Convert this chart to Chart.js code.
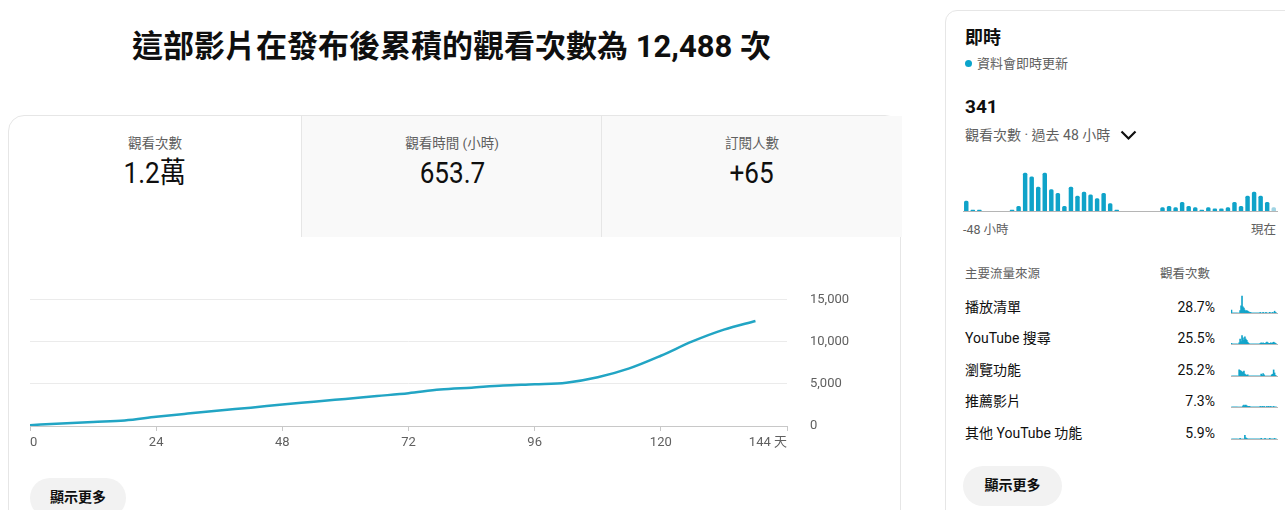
<!DOCTYPE html>
<html lang="zh-Hant">
<head>
<meta charset="utf-8">
<script src="https://cdn.jsdelivr.net/npm/chart.js@4.4.1/dist/chart.umd.min.js"></script>
<style>
  body {
    margin: 0;
    width: 1285px;
    height: 510px;
    overflow: hidden;
    background: #fff;
    position: relative;
    font-family: Roboto, "Noto Sans CJK TC", sans-serif;
    color: #0f0f0f;
  }
  .abs { position: absolute; white-space: nowrap; }
  canvas { position: absolute; }
  .card { position: absolute; border: 1px solid #e6e6e6; box-sizing: border-box; }
  .tab { position: absolute; top: 0; height: 121px; text-align: center; }
  .tab .name { position: absolute; left: 0; right: 0; top: 18px; font-size: 13.5px; line-height: 18px; color: #606060; }
  .tab .value { position: absolute; left: 0; right: 0; top: 40px; font-size: 29px; line-height: 34px; }
  .tab .value span { display: inline-block; transform: scaleX(0.9); }
  .btn { position: absolute; background: #f2f2f2; border-radius: 20px; font-size: 14px; font-weight: 700; text-align: center; line-height: 38px; }
  .muted { color: #606060; }
</style>
</head>
<body>

<div class="abs" style="left:0;width:903px;top:27px;font-size:31px;line-height:40px;font-weight:700;text-align:center">這部影片在發布後累積的觀看次數為 12,488 次</div>

<div class="card" style="left:8px;top:115px;width:893px;height:430px;border-radius:16px 16px 0 0">
  <div id="tabs"></div>
</div>
<canvas id="viewsChart" width="870" height="191" style="left:0;top:269px"></canvas>
<div class="btn" style="left:30px;top:478px;width:96px;height:40px">顯示更多</div>

<div class="card" style="left:945px;top:10px;width:370px;height:520px;border-radius:12px"></div>
<div class="abs" style="left:965px;top:26px;font-size:18px;line-height:24px;font-weight:700">即時</div>
<div class="abs" style="left:965px;top:60px;width:7px;height:7px;border-radius:50%;background:#0aa4cb"></div>
<div class="abs muted" style="left:977px;top:55px;font-size:13px;line-height:18px">資料會即時更新</div>
<div class="abs" style="left:965px;top:95px;font-size:19px;line-height:24px;font-weight:700">341</div>
<div class="abs muted" style="left:965px;top:126px;font-size:14px;line-height:18px">觀看次數 · 過去 48 小時</div>
<svg class="abs" style="left:1120px;top:130px" width="17" height="11" viewBox="0 0 17 11"><path d="M1.5 1.5 L8.5 8.5 L15.5 1.5" stroke="#0f0f0f" stroke-width="2.2" fill="none"/></svg>
<canvas id="liveChart" width="325" height="56" style="left:958px;top:160px"></canvas>
<div class="abs muted" style="left:963px;top:221px;font-size:12.5px;line-height:17px">-48 小時</div>
<div class="abs muted" style="left:1200px;width:76px;top:221px;font-size:12.5px;line-height:17px;text-align:right">現在</div>
<div class="abs muted" style="left:965px;top:265px;font-size:12.5px;line-height:17px">主要流量來源</div>
<div class="abs muted" style="left:1160px;top:265px;font-size:12.5px;line-height:17px">觀看次數</div>
<div id="sources"></div>
<div class="btn" style="left:963px;top:466px;width:99px;height:40px">顯示更多</div>

<script>
// Cumulative views since publish (day, views)
const days = [0, 6, 12, 18, 24, 30, 36, 42, 48, 54, 60, 66, 72, 78, 84, 90, 96, 102, 108, 114, 120, 126, 132, 138];
const cumulativeViews = [100, 300, 480, 650, 1090, 1480, 1850, 2180, 2550, 2880, 3220, 3560, 3900, 4330, 4560, 4800, 4960, 5150, 5800, 6850, 8350, 10050, 11450, 12488];
const xTicks = [0, 24, 48, 72, 96, 120, 144];
const yTicks = [0, 5000, 10000, 15000];

// Metric tabs
const metricNames = ['觀看次數', '觀看時間 (小時)', '訂閱人數'];
const metricValues = ['1.2萬', '653.7', '+65'];

// Realtime: views per hour, last 48 hours
const hourLabels = ['-48', '-47', '-46', '-45', '-44', '-43', '-42', '-41', '-40', '-39', '-38', '-37', '-36', '-35', '-34', '-33',
  '-32', '-31', '-30', '-29', '-28', '-27', '-26', '-25', '-24', '-23', '-22', '-21', '-20', '-19', '-18', '-17',
  '-16', '-15', '-14', '-13', '-12', '-11', '-10', '-9', '-8', '-7', '-6', '-5', '-4', '-3', '-2', '-1'];
const hourlyViews = [8, 1, 1, 0, 0, 0, 0, 1, 4, 30, 27, 19, 30, 17, 14, 4, 19, 12, 15, 13, 10, 14, 6, 1,
  0, 0, 0, 0, 0, 0, 3, 4, 3, 7, 4, 3, 1, 3, 2, 2, 3, 7, 4, 12, 15, 12, 7, 3];

// Traffic sources
const sourceNames = ['播放清單', 'YouTube 搜尋', '瀏覽功能', '推薦影片', '其他 YouTube 功能'];
const sourceShares = ['28.7%', '25.5%', '25.2%', '7.3%', '5.9%'];
const sparkPlaylist = [5, 0, 0, 0, 0, 0, 0, 0, 0, 4, 12, 28, 10, 8, 5, 3, 4, 3, 2, 1, 1, 0, 0, 0, 0, 0, 0, 0, 0, 0, 1, 0, 0, 1, 0, 0, 1, 0, 0, 0, 1, 0, 0, 1, 0, 3, 1, 0];
const sparkSearch = [1, 0, 0, 0, 0, 0, 0, 0, 2, 8, 4, 14, 10, 6, 12, 8, 6, 3, 1, 0, 0, 0, 0, 0, 0, 0, 0, 0, 0, 0, 1, 2, 1, 2, 1, 1, 2, 3, 2, 1, 1, 2, 1, 2, 3, 2, 1, 0];
const sparkBrowse = [0, 0, 0, 0, 0, 0, 0, 0, 10, 9, 8, 7, 6, 8, 3, 2, 1, 2, 0, 0, 0, 0, 0, 0, 0, 0, 0, 0, 0, 0, 0, 3, 1, 4, 2, 0, 0, 0, 0, 0, 0, 0, 2, 3, 10, 5, 1, 0];
const sparkSuggested = [0, 0, 0, 0, 0, 0, 0, 0, 0, 0, 0, 0, 2, 3, 2, 3, 2, 1, 1, 1, 0, 0, 0, 0, 0, 0, 0, 0, 0, 0, 1, 0, 1, 0, 1, 0, 0, 1, 0, 1, 0, 1, 0, 0, 1, 0, 0, 0];
const sparkOther = [0, 0, 0, 0, 0, 0, 0, 0, 0, 1, 0, 0, 0, 0, 6, 2, 1, 0, 0, 0, 0, 0, 0, 0, 0, 0, 0, 0, 0, 0, 0, 1, 0, 0, 0, 1, 0, 0, 0, 0, 1, 0, 0, 0, 0, 1, 0, 0];
const sparkSeries = [sparkPlaylist, sparkSearch, sparkBrowse, sparkSuggested, sparkOther];

const FONT = 'Roboto, "Noto Sans CJK TC", sans-serif';
const LINE_COLOR = '#22a5c4';
const BAR_COLOR = '#0fa3c9';

// Tabs
const tabLefts = [0, 292, 592];
const tabWidths = [292, 300, 300];
document.getElementById('tabs').innerHTML = metricNames.map((name, i) => `
  <div class="tab" style="left:${tabLefts[i]}px;width:${tabWidths[i]}px;${i > 0 ? 'background:#f9f9f9;border-left:1px solid #e6e6e6;' : ''}">
    <div class="name">${name}</div>
    <div class="value"><span>${metricValues[i]}</span></div>
  </div>
`).join('');

// Traffic source rows
const rowCenters = [307, 338, 370, 401, 433];
document.getElementById('sources').innerHTML = sourceNames.map((name, i) => `
  <div class="abs" style="left:965px;top:${rowCenters[i] - 10}px;font-size:14px;line-height:20px">${name}</div>
  <div class="abs" style="left:1140px;width:75px;top:${rowCenters[i] - 10}px;font-size:14px;line-height:20px;text-align:right">${sourceShares[i]}</div>
  <canvas id="spark${i}" width="50" height="22" style="left:1229px;top:${rowCenters[i] - 15}px"></canvas>
`).join('');

/**
 * Cumulative views line
 */
new Chart(document.getElementById('viewsChart'), {
  type: 'line',
  data: {
    datasets: [{
      data: days.map((d, i) => ({ x: d, y: cumulativeViews[i] })),
      borderColor: LINE_COLOR,
      borderWidth: 2.5,
      pointRadius: 0,
      cubicInterpolationMode: 'monotone',
      fill: false
    }]
  },
  options: {
    responsive: false,
    animation: false,
    events: [],
    layout: { padding: { left: 30, top: 0, right: 0, bottom: 0 } },
    plugins: { legend: { display: false }, tooltip: { enabled: false } },
    scales: {
      x: {
        type: 'linear',
        min: 0,
        max: 144,
        afterBuildTicks: s => { s.ticks = xTicks.map(v => ({ value: v })); },
        afterFit: s => { s.height = 34; },
        grid: { drawOnChartArea: false, drawTicks: true, tickLength: 5, color: '#c8c8c8' },
        border: { display: true, color: '#c8c8c8' },
        ticks: {
          align: 'inner',
          padding: 4,
          maxRotation: 0,
          autoSkip: false,
          color: '#606060',
          font: { family: FONT, size: 13 },
          callback: v => v === 144 ? '144 天' : String(v)
        }
      },
      y: {
        position: 'right',
        min: 0,
        max: 15000,
        afterBuildTicks: s => { s.ticks = yTicks.map(v => ({ value: v })); },
        afterFit: s => { s.width = 83; },
        grid: { drawTicks: false, color: c => c.tick && c.tick.value === 0 ? '#c8c8c8' : '#ebebeb' },
        border: { display: false },
        ticks: {
          padding: 23,
          color: '#606060',
          font: { family: FONT, size: 13 },
          callback: v => v.toLocaleString('en-US')
        }
      }
    }
  }
});

/**
 * Realtime hourly bars
 */
new Chart(document.getElementById('liveChart'), {
  type: 'bar',
  data: {
    labels: hourLabels,
    datasets: [{
      data: hourlyViews,
      backgroundColor: hourlyViews.map((v, i) => i === hourlyViews.length - 1 ? '#9fd4e4' : BAR_COLOR),
      barPercentage: 0.68,
      categoryPercentage: 1,
      borderRadius: { topLeft: 1.5, topRight: 1.5 },
      borderSkipped: 'bottom'
    }]
  },
  options: {
    responsive: false,
    animation: false,
    events: [],
    layout: { padding: { left: 5, right: 6, top: 5, bottom: 5 } },
    plugins: { legend: { display: false }, tooltip: { enabled: false } },
    scales: {
      x: {
        grid: { display: false },
        ticks: { display: false },
        border: { display: true, color: '#b5b5b5' },
        afterFit: s => { s.height = 0; }
      },
      y: { display: false, min: 0, max: 36 }
    }
  }
});

/**
 * Traffic source sparklines
 */
sparkSeries.forEach((values, i) => {
  new Chart(document.getElementById('spark' + i), {
    type: 'bar',
    data: {
      labels: hourLabels,
      datasets: [{
        data: values,
        backgroundColor: BAR_COLOR,
        barPercentage: 1,
        categoryPercentage: 1
      }]
    },
    options: {
      responsive: false,
      animation: false,
      events: [],
      layout: { padding: { left: 2, right: 2, top: 1, bottom: 1 } },
      plugins: { legend: { display: false }, tooltip: { enabled: false } },
      scales: {
        x: {
          grid: { display: false },
          ticks: { display: false },
          border: { display: true, color: '#b8b8b8', dash: [1, 2] },
          afterFit: s => { s.height = 0; }
        },
        y: { display: false, min: 0, max: 33 }
      }
    }
  });
});
</script>
</body>
</html>
